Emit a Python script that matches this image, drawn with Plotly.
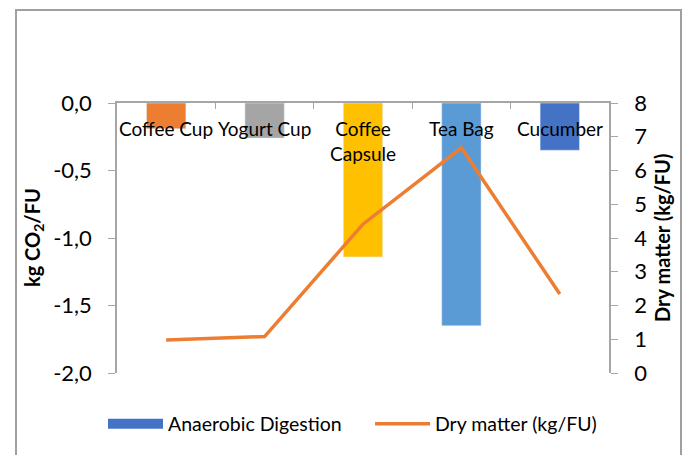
import plotly.graph_objects as go

categories = ["Coffee Cup", "Yogurt Cup", "Coffee<br>Capsule", "Tea Bag", "Cucumber"]
ad_values = [-0.19, -0.26, -1.14, -1.65, -0.35]
dry_matter = [0.98, 1.08, 4.41, 6.67, 2.34]
bar_colors = ["#ED7D31", "#A5A5A5", "#FFC000", "#5B9BD5", "#4472C4"]
left_ticks = [0, -0.5, -1.0, -1.5, -2.0]
left_ticktext = ["0,0", "-0,5", "-1,0", "-1,5", "-2,0"]
right_ticks = [0, 1, 2, 3, 4, 5, 6, 7, 8]

W, H = 686, 455
ML, MR, MT, MB = 117, 77, 103, 82
PW, PH = W - ML - MR, H - MT - MB

FONT = "Lato"
AX = "#A6A6A6"

fig = go.Figure()
fig.add_trace(go.Bar(x=categories, y=ad_values, marker_color=bar_colors,
                     width=0.4, showlegend=False, yaxis="y"))
# legend entry for bars
fig.add_trace(go.Scatter(x=[None], y=[None], mode="lines",
                         line=dict(color="#4472C4", width=10),
                         name="Anaerobic Digestion", yaxis="y"))
fig.add_trace(go.Scatter(x=categories, y=dry_matter, mode="lines",
                         line=dict(color="#ED7D31", width=3.5),
                         name="Dry matter (kg/FU)", yaxis="y2"))

annotations = []
for c in categories:
    annotations.append(dict(x=c, y=0, xref="x", yref="y", text=c,
                            showarrow=False, yanchor="top", yshift=-12,
                            font=dict(family=FONT, size=19, color="#000")))

def px_x(p):
    return (p - ML) / PW

def px_y(p):
    return (H - MB - p) / PH

annotations.append(dict(x=px_x(33), y=px_y(238), xref="paper", yref="paper",
                        xanchor="center", yanchor="middle",
                        text="<b>kg CO<sub>2</sub>/FU</b>", textangle=-90,
                        showarrow=False, font=dict(family=FONT, size=20, color="#000")))
annotations.append(dict(x=px_x(662), y=px_y(238), xref="paper", yref="paper",
                        xanchor="center", yanchor="middle",
                        text="<b>Dry matter (kg/FU)</b>", textangle=-90,
                        showarrow=False, font=dict(family=FONT, size=20, color="#000")))

fig.update_layout(
    width=W, height=H,
    margin=dict(l=ML, r=MR, t=MT, b=MB),
    paper_bgcolor="white", plot_bgcolor="white",
    barmode="overlay",
    font=dict(family=FONT, color="#000"),
    xaxis=dict(side="top", showline=True, linecolor=AX, linewidth=1.5,
               ticks="inside", ticklen=6, tickcolor=AX, tickson="boundaries",
               showticklabels=False, showgrid=False, zeroline=False),
    yaxis=dict(range=[-2, 0], tickvals=left_ticks, ticktext=left_ticktext,
               showline=True, linecolor=AX, linewidth=1.5, ticks="outside",
               ticklen=7, tickcolor=AX, showgrid=False, zeroline=False,
               ticklabelstandoff=12,
               tickfont=dict(family=FONT, size=22, color="#000")),
    yaxis2=dict(range=[0, 8], tickvals=right_ticks, overlaying="y", side="right",
                showline=True, linecolor=AX, linewidth=1.5, ticks="outside",
                ticklen=7, tickcolor=AX, showgrid=False, zeroline=False,
                ticklabelstandoff=12,
                tickfont=dict(family=FONT, size=22, color="#000")),
    legend=dict(orientation="h", x=px_x(103), y=px_y(424), yanchor="middle",
                xanchor="left", itemwidth=55, entrywidth=197,
                font=dict(family=FONT, size=19.5, color="#000"),
                bgcolor="rgba(0,0,0,0)"),
    annotations=annotations,
    shapes=[dict(type="rect", xref="paper", yref="paper",
                 x0=px_x(16), x1=px_x(681), y0=px_y(470), y1=px_y(10),
                 line=dict(color="#A0A0A0", width=2), layer="below")],
)

fig.write_html("out.html", config={"displayModeBar": False},
               post_script="document.body.style.margin='0';document.body.style.overflow='hidden';")
